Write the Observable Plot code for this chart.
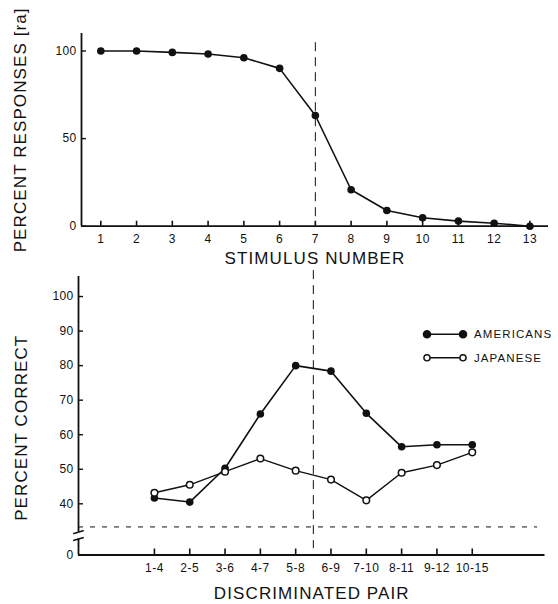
<!DOCTYPE html>
<html><head><meta charset="utf-8">
<script src="https://cdn.jsdelivr.net/npm/d3@7"></script>
<script src="https://cdn.jsdelivr.net/npm/@observablehq/plot@0.6"></script>
<style>
body{margin:0;background:#fff;}
#chart{position:relative;width:558px;height:604px;font-family:"Liberation Sans",Arial,sans-serif;color:#111;overflow:hidden;}
#top,#bottom,#legend{position:absolute;left:0;}
#top{top:0px;}
#bottom{top:270px;}
#legend{top:0;left:0;pointer-events:none;}
svg{overflow:visible;}
g[aria-label="text"] text{letter-spacing:1.1px;}
g[aria-label="x-axis tick label"] text{letter-spacing:0.5px;}
g[aria-label="y-axis tick label"] text{letter-spacing:0.3px;}
</style></head>
<body><div id="chart"><div id="top"></div><div id="bottom"></div><div id="legend"></div></div>
<script>
// ---- data ----
const stimulusNumbers = [1, 2, 3, 4, 5, 6, 7, 8, 9, 10, 11, 12, 13];
const percentResponses = [100, 100, 99.2, 98.3, 96.2, 90.1, 63.2, 20.8, 9, 4.8, 2.9, 1.7, 0];
const topYTicks = [0, 50, 100];

const pairLabels = ["1-4", "2-5", "3-6", "4-7", "5-8", "6-9", "7-10", "8-11", "9-12", "10-15"];
const americans = [41.7, 40.5, 50.3, 66, 80, 78.4, 66.2, 56.5, 57.1, 57.1];
const japanese = [43.2, 45.5, 49.3, 53.1, 49.6, 47, 41, 49, 51.2, 54.9];
const bottomYTicks = [0, 40, 50, 60, 70, 80, 90, 100];
const seriesNames = ["AMERICANS", "JAPANESE"];

const boundaryStimulus = 7;   // category boundary (stimulus number)
const boundaryPair = 5.5;     // same boundary between pairs 5-8 and 6-9
const chanceLevel = 33.3;

// ---- styling ----
const ink = "#111";
const font = "'Liberation Sans', Arial, sans-serif";
const titleSize = 17;

// ---- top chart ----
const topData = stimulusNumbers.map((s, i) => ({s, v: percentResponses[i]}));
const xTop = [0.46, 13.52];
const topPlot = Plot.plot({
  width: 558, height: 270,
  marginLeft: 81, marginRight: 10, marginTop: 33, marginBottom: 44.3,
  style: {fontFamily: font, fontSize: "12px", color: ink, background: "transparent", overflow: "visible"},
  x: {domain: xTop, label: null},
  y: {domain: [0, 110], label: null},
  marks: [
    Plot.ruleX([boundaryStimulus], {y1: 104.75, y2: 0, stroke: ink, strokeWidth: 1, strokeDasharray: "9,6"}),
    Plot.ruleY([0], {stroke: ink, strokeWidth: 1.8}),
    Plot.ruleX([xTop[0]], {y1: 0, y2: 110, stroke: ink, strokeWidth: 1.8}),
    Plot.axisX({ticks: stimulusNumbers, tickFormat: d => d, tickSize: -5, tickPadding: 13, stroke: ink, strokeWidth: 1.6, label: null}),
    Plot.axisY({ticks: topYTicks, tickFormat: d => d, tickSize: -5, tickPadding: 10, stroke: ink, strokeWidth: 1.4, label: null}),
    Plot.line(topData, {x: "s", y: "v", stroke: ink, strokeWidth: 1.6}),
    Plot.dot(topData, {x: "s", y: "v", r: 3.8, fill: ink}),
    Plot.text(["PERCENT RESPONSES [ra]"], {frameAnchor: "left", textAnchor: "middle", dx: -61, dy: 0, rotate: -90, fontSize: titleSize, fill: ink}),
    Plot.text(["STIMULUS NUMBER"], {frameAnchor: "bottom", dy: 38, fontSize: titleSize, fill: ink})
  ]
});
document.getElementById("top").append(topPlot);

// ---- bottom chart (broken y axis: 0..27 compressed below the break) ----
const breakAt = 27, zeroAt = 25.18;
const brokenAxis = v => v >= breakAt ? v : zeroAt + v * (breakAt - zeroAt) / breakAt;
const idx = pairLabels.map((_, i) => i + 1);
const amData = idx.map((k, i) => ({k, v: americans[i], series: seriesNames[0]}));
const jpData = idx.map((k, i) => ({k, v: japanese[i], series: seriesNames[1]}));
const xBot = [-1.15, 12.06];
const yBot = [zeroAt, 105.8];
const breakMarks = [29.8, 31.8];
const bottomPlot = Plot.plot({
  width: 558, height: 334,
  marginLeft: 78, marginRight: 13.5, marginTop: 6, marginBottom: 49.5,
  style: {fontFamily: font, fontSize: "12px", color: ink, background: "transparent", overflow: "visible"},
  x: {domain: xBot, label: null},
  y: {domain: yBot, label: null},
  marks: [
    Plot.ruleX([boundaryPair], {y1: 107.5, y2: breakAt, stroke: ink, strokeWidth: 1, strokeDasharray: "9,6"}),
    Plot.ruleY([chanceLevel], {y: brokenAxis, x1: xBot[0], x2: 11.85, stroke: ink, strokeWidth: 1, strokeDasharray: "5,7"}),
    Plot.ruleY([0], {y: brokenAxis, x1: xBot[0], x2: xBot[1], stroke: ink, strokeWidth: 1.8}),
    Plot.ruleX([xBot[0]], {y1: yBot[0], y2: breakMarks[0], stroke: ink, strokeWidth: 1.8}),
    Plot.ruleX([xBot[0]], {y1: breakMarks[1], y2: yBot[1], stroke: ink, strokeWidth: 1.8}),
    Plot.link(breakMarks, {x1: xBot[0] - 0.15, x2: xBot[0] + 0.15, y1: d => d - 0.45, y2: d => d + 0.45, stroke: ink, strokeWidth: 1.6}),
    Plot.axisX({ticks: idx, tickFormat: k => pairLabels[k - 1], tickSize: -6, tickPadding: 14, stroke: ink, strokeWidth: 1.6, label: null}),
    Plot.axisY({ticks: bottomYTicks.map(brokenAxis), tickFormat: (t, i) => bottomYTicks[i], tickSize: -5, tickPadding: 10, stroke: ink, strokeWidth: 1.4, label: null}),
    Plot.line(amData, {x: "k", y: d => brokenAxis(d.v), stroke: ink, strokeWidth: 1.6}),
    Plot.line(jpData, {x: "k", y: d => brokenAxis(d.v), stroke: ink, strokeWidth: 1.4}),
    Plot.dot(amData, {x: "k", y: d => brokenAxis(d.v), r: 3.8, fill: ink}),
    Plot.dot(jpData, {x: "k", y: d => brokenAxis(d.v), r: 3.3, fill: "white", stroke: ink, strokeWidth: 1.5}),
    Plot.text(["PERCENT CORRECT"], {frameAnchor: "left", textAnchor: "middle", dx: -57, dy: 12, rotate: -90, fontSize: titleSize, fill: ink}),
    Plot.text(["DISCRIMINATED PAIR"], {frameAnchor: "bottom", dy: 44, fontSize: titleSize, fill: ink})
  ]
});
document.getElementById("bottom").append(bottomPlot);

// ---- legend (overlay) ----
const legend = d3.select("#legend").append("svg").attr("width", 558).attr("height", 604);
const legendRows = seriesNames.map((name, i) => ({name, filled: i === 0}));
const lg = legend.selectAll("g").data(legendRows).join("g")
  .attr("transform", (d, i) => `translate(427,${334.3 + i * 23.5})`);
lg.append("line").attr("x1", 0).attr("x2", 36).attr("stroke", ink).attr("stroke-width", d => d.filled ? 1.6 : 1.4);
lg.selectAll("circle").data(d => [0, 36].map(x => ({x, filled: d.filled}))).join("circle")
  .attr("cx", d => d.x).attr("r", d => d.filled ? 3.6 : 3.1)
  .attr("fill", d => d.filled ? ink : "white").attr("stroke", ink).attr("stroke-width", 1.4);
lg.append("text").attr("x", 47).attr("dy", "0.36em")
  .attr("font-family", font).attr("font-size", 11.5).attr("letter-spacing", 1.1).attr("fill", ink)
  .text(d => d.name);
</script>
</body></html>
